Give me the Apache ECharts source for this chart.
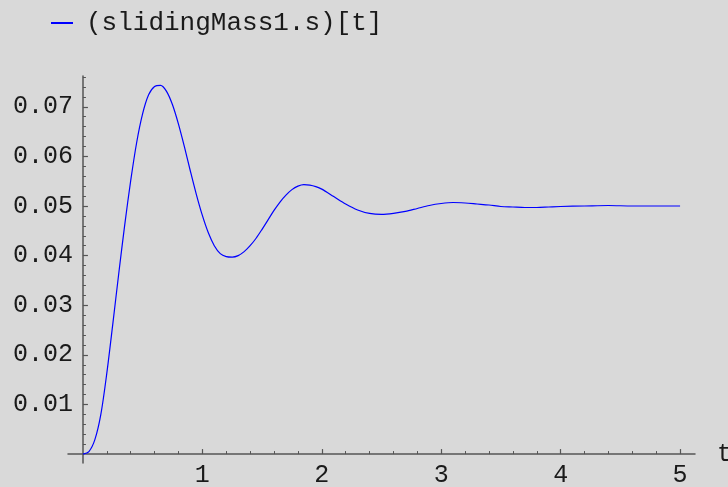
<!DOCTYPE html>
<html>
<head>
<meta charset="utf-8">
<script src="https://cdn.jsdelivr.net/npm/echarts@6/dist/echarts.min.js"></script>
<style>html,body{margin:0;padding:0;background:#d9d9d9;}#c{width:728px;height:487px;}</style>
</head>
<body>
<div id="c"></div>
<script>
var seriesName = '(slidingMass1.s)[t]';
var tValues = [0,0.05,0.1,0.15,0.2,0.25,0.3,0.35,0.4,0.45,0.5,0.55,0.6,0.65,0.7,0.75,0.8,0.85,0.9,0.95,
  1.0,1.05,1.1,1.15,1.2,1.25,1.3,1.35,1.4,1.45,1.5,1.55,1.6,1.65,1.7,1.75,1.8,1.85,1.9,1.95,
  2.0,2.1,2.2,2.3,2.4,2.5,2.6,2.7,2.8,2.9,3.0,3.1,3.2,3.3,3.4,3.5,3.6,3.7,3.8,3.9,4.0,4.2,4.4,4.6,4.8,5.0];
var sValues = [0,0.0005,0.0029,0.0080,0.0163,0.0262,0.0364,0.0462,0.0551,0.0628,0.0686,0.0724,0.0741,0.0743,0.0731,0.0704,0.0665,0.0619,0.0570,0.0523,
  0.0481,0.0446,0.0420,0.0404,0.0398,0.0397,0.0400,0.0408,0.0420,0.0435,0.0453,0.0472,0.0491,0.0508,0.0522,0.0533,0.0540,0.0543,0.0542,0.0539,
  0.0534,0.0519,0.0504,0.0492,0.0485,0.0483,0.0485,0.0489,0.0495,0.0501,0.0505,0.0507,0.0506,0.0504,0.0502,0.0499,0.0498,0.0497,0.0497,0.0498,0.0499,0.0500,0.0501,0.0500,0.0500,0.0500];
var xMajorTicks = [1,2,3,4,5];
var xMinorTicks = [0.2,0.4,0.6,0.8,1.2,1.4,1.6,1.8,2.2,2.4,2.6,2.8,3.2,3.4,3.6,3.8,4.2,4.4,4.6,4.8];
var yMajorTicks = [0.01,0.02,0.03,0.04,0.05,0.06,0.07];
var yMinorTicks = [0.002,0.004,0.006,0.008,0.012,0.014,0.016,0.018,0.022,0.024,0.026,0.028,0.032,0.034,0.036,0.038,
  0.042,0.044,0.046,0.048,0.052,0.054,0.056,0.058,0.062,0.064,0.066,0.068,0.072,0.074,0.076];

var FONT = 'Liberation Mono';
var axisColor = '#555555';
var textColor = '#1a1a1a';
var fontSize = 25;

var data = tValues.map(function(t,i){return [t, sValues[i]];});

var chart = echarts.init(document.getElementById('c'));
chart.setOption({
  backgroundColor: '#d9d9d9',
  animation: false,
  legend: {
    left: 46, top: 5,
    itemWidth: 22, itemHeight: 2, itemGap: 10,
    icon: 'rect',
    textStyle: {fontFamily: FONT, fontSize: 26, color: textColor, padding: [0, 0, 0, 8]},
    data: [{name: seriesName, icon: 'rect'}]
  },
  grid: {left: 68, right: 33, top: 76, bottom: 24, containLabel: false, outerBoundsMode: 'none'},
  xAxis: [{
    type: 'value', min: -0.125, max: 5.125, position: 'bottom',
    name: 't', nameLocation: 'end', nameGap: 22,
    nameTextStyle: {fontFamily: FONT, fontSize: fontSize, color: textColor},
    axisLine: {show: true, onZero: true, lineStyle: {color: axisColor, width: 1.5}},
    axisTick: {show: true, inside: true, length: 5, customValues: xMajorTicks, lineStyle: {color: axisColor, width: 1.2}},
    axisLabel: {show: true, customValues: xMajorTicks, fontFamily: FONT, fontSize: fontSize, color: textColor, margin: 0},
    splitLine: {show: false}
  }, {
    type: 'value', min: -0.125, max: 5.125, position: 'bottom',
    axisLine: {show: false, onZero: true},
    axisTick: {show: true, inside: true, length: 3, customValues: xMinorTicks, lineStyle: {color: axisColor, width: 1}},
    axisLabel: {show: false},
    splitLine: {show: false}
  }],
  yAxis: [{
    type: 'value', min: -0.0018, max: 0.0762, position: 'left',
    axisLine: {show: true, onZero: true, lineStyle: {color: axisColor, width: 1.5}},
    axisTick: {show: true, inside: true, length: 5, customValues: yMajorTicks, lineStyle: {color: axisColor, width: 1.2}},
    axisLabel: {show: true, customValues: yMajorTicks, fontFamily: FONT, fontSize: fontSize, color: textColor, margin: -5,
      formatter: function(v){return v.toFixed(2);}},
    splitLine: {show: false}
  }, {
    type: 'value', min: -0.0018, max: 0.0762, position: 'left',
    axisLine: {show: false, onZero: true},
    axisTick: {show: true, inside: true, length: 3, customValues: yMinorTicks, lineStyle: {color: axisColor, width: 1}},
    axisLabel: {show: false},
    splitLine: {show: false}
  }],
  series: [{
    name: seriesName, type: 'line', data: data, smooth: 0.3,
    showSymbol: false, symbol: 'none',
    lineStyle: {color: '#0000ff', width: 1.2},
    itemStyle: {color: '#0000ff'}
  }]
});
</script>
</body>
</html>
